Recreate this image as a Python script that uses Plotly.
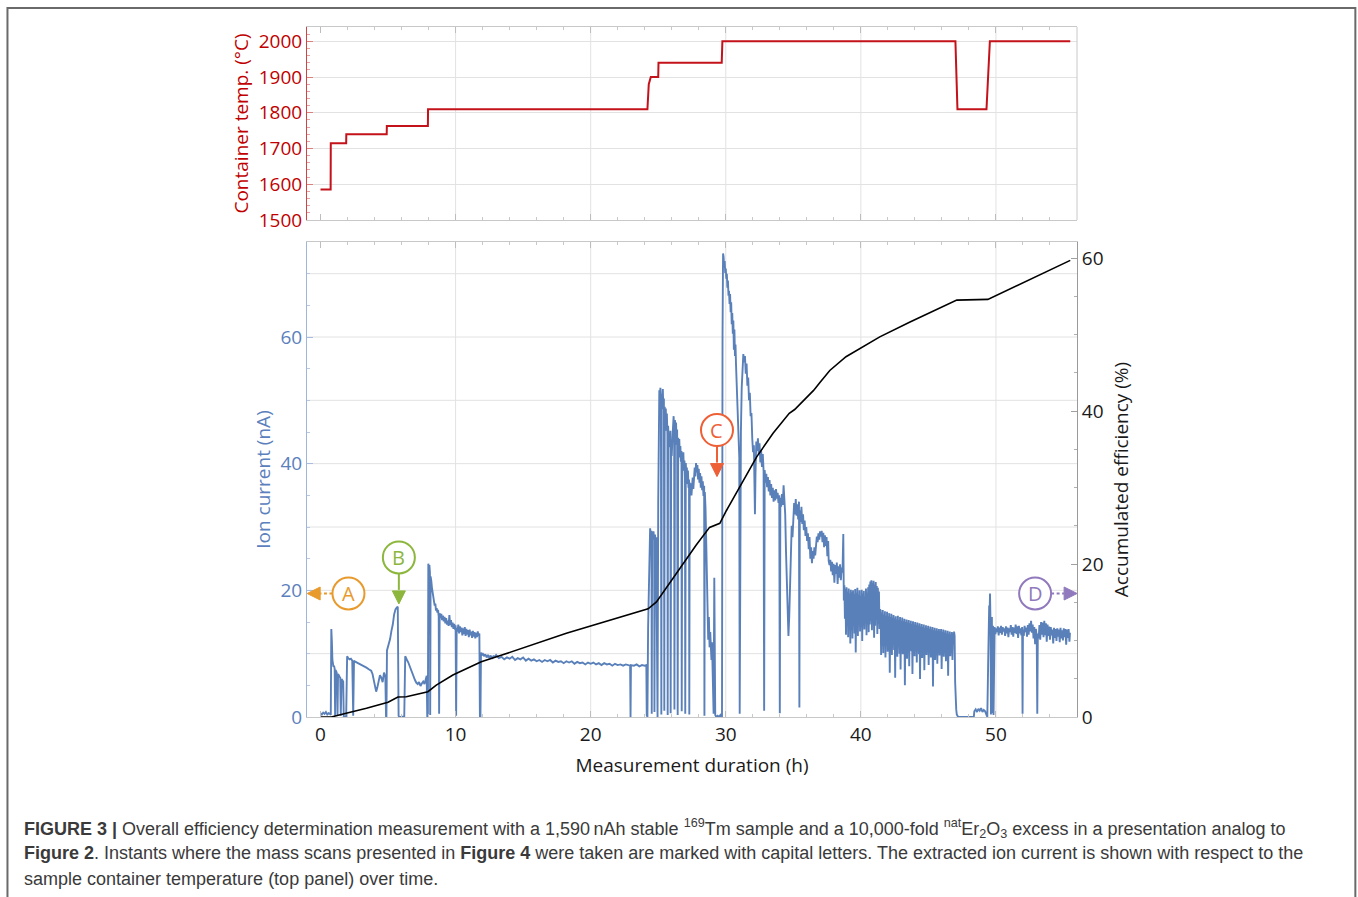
import plotly.graph_objects as go

# ---------------- container temperature program (top panel) ----------------
temp_time_h = [0.0, 0.75, 0.76, 1.9, 1.91, 4.9, 4.91, 7.95, 7.96, 24.2, 24.3, 24.45,
               25.0, 25.02, 29.7, 29.75, 47.0, 47.15, 49.3, 49.55, 55.5]
temp_c = [1585, 1585, 1715, 1715, 1740, 1740, 1763, 1763, 1810, 1810, 1880, 1900,
          1900, 1940, 1940, 2000, 2000, 1810, 1810, 2000, 2000]

# ---------------- accumulated efficiency (black, right axis) ----------------
eff_time_h = [0.0, 0.8, 1.9, 3.4, 5.0, 5.73, 6.35, 7.95, 8.57, 9.8, 11.9, 13.26, 18.2,
              24.25, 24.87, 26.6, 27.8, 28.8, 29.56, 30.05, 31.04, 32.3, 33.5, 34.7,
              35.1, 36.5, 37.0, 37.7, 38.9, 41.4, 43.6, 47.1, 49.4, 55.5]
eff_pct = [0.0, 0.0, 0.5, 1.14, 1.93, 2.61, 2.65, 3.31, 4.16, 5.49, 7.22, 8.0, 10.94,
           14.15, 15.04, 19.4, 22.46, 24.79, 25.33, 27.0, 30.08, 34.04, 37.1, 39.7,
           40.2, 42.7, 43.8, 45.3, 47.1, 49.7, 51.6, 54.5, 54.6, 59.7]

# ---------------- extracted ion current (blue, left axis) ----------------
# first heating steps, 0 - 8 h
ion_t_start = [0.0, 0.1, 0.2, 0.3, 0.4, 0.5, 0.6, 0.7, 0.76, 0.8, 0.84, 0.88, 0.92, 0.96, 1.0,
               1.05, 1.08, 1.1, 1.14, 1.2, 1.26, 1.3, 1.34, 1.4, 1.46, 1.5, 1.56, 1.62, 1.68,
               1.72, 1.78, 1.84, 1.9, 1.93, 1.97, 2.05, 2.15, 2.25, 2.35, 2.42, 2.45, 2.48,
               2.6, 2.8, 3.0, 3.2, 3.4, 3.6, 3.75, 3.85, 3.95, 4.05, 4.12, 4.2, 4.3, 4.4,
               4.5, 4.6, 4.7, 4.8, 4.85, 4.88, 4.92, 4.98, 5.05, 5.15, 5.25, 5.35, 5.45,
               5.55, 5.65, 5.72, 5.78, 5.82, 5.9, 6.0, 6.1, 6.2, 6.27, 6.32, 6.4, 6.5, 6.6,
               6.7, 6.8, 6.9, 7.0, 7.1, 7.2, 7.3, 7.4, 7.5, 7.6, 7.7, 7.8, 7.86, 7.9]
ion_i_start = [0.6, 0.4, 0.7, 0.5, 0.8, 0.4, 0.6, 0.5, 0.3, 13.9, 12.0, 9.0, 8.4, 7.9, 8.1,
               7.6, 0.2, 7.4, 7.3, 7.0, 0.3, 6.8, 6.7, 6.4, 6.2, 0.2, 6.0, 5.8, 5.6,
               0.1, 0.0, 0.0, 0.1, 9.4, 9.6, 9.3, 9.1, 9.2, 8.9, 0.2, 8.8, 8.9,
               8.7, 8.5, 8.3, 8.1, 7.8, 7.5, 7.3, 6.8, 5.5, 4.3, 4.0, 4.6, 5.6, 6.6,
               6.2, 5.5, 7.0, 6.4, 0.1, 0.0, 10.5, 11.0, 11.4, 12.3, 13.6, 14.6, 16.2,
               17.0, 17.3, 17.4, 0.2, 0.0, 0.0, 0.0, 0.0, 0.1, 9.6, 9.3, 9.0, 8.6, 8.0,
               7.6, 6.8, 6.2, 5.8, 5.4, 5.2, 5.5, 4.9, 5.3, 5.6, 5.2, 6.3, 6.5, 0.1]

# 1810 degC step, 8 - 12 h
ion_t_step = [7.95, 7.98, 8.02, 8.06, 8.1, 8.12, 8.15, 8.2, 8.25, 8.3, 8.35, 8.4, 8.45, 8.5,
              8.55, 8.6, 8.65, 8.7, 8.75, 8.78, 8.82, 8.88, 8.94, 9.0, 9.06, 9.12, 9.18,
              9.24, 9.3, 9.36, 9.42, 9.48, 9.54, 9.6, 9.66, 9.72, 9.78, 9.84, 9.9, 9.96,
              10.0, 10.04, 10.08, 10.14, 10.2, 10.26, 10.32, 10.38, 10.44, 10.5, 10.56,
              10.62, 10.68, 10.74, 10.8, 10.86, 10.92, 10.98, 11.04, 11.1, 11.16, 11.22,
              11.28, 11.34, 11.4, 11.46, 11.52, 11.58, 11.64, 11.7, 11.76, 11.8, 11.84,
              11.88, 11.94, 12.0]
ion_i_step = [0.0, 24.2, 23.6, 24.0, 22.8, 0.3, 22.2, 21.5, 20.4, 19.7, 18.9, 18.2, 17.6, 17.9,
              16.8, 17.2, 16.5, 16.9, 15.9, 0.5, 16.4, 15.6, 16.3, 15.3, 16.0, 15.1, 15.8,
              14.8, 15.6, 14.6, 15.2, 14.4, 16.1, 14.5, 15.3, 14.2, 14.9, 13.9, 14.7, 13.8,
              14.5, 0.2, 14.1, 13.5, 14.6, 13.2, 14.3, 13.4, 14.1, 12.9, 14.0,
              13.1, 14.2, 12.8, 13.9, 13.0, 13.7, 12.6, 13.8, 12.9, 13.5, 12.5,
              13.6, 12.7, 13.4, 12.4, 13.3, 12.6, 13.5, 12.8, 13.2, 0.1, 0.0,
              10.2, 9.7, 10.1]

# slow decay plateau, 12 - 24 h
ion_t_plateau = [12.1, 12.2, 12.3, 12.4, 12.5, 12.6, 12.7, 12.8, 12.9, 13.0, 13.2, 13.4, 13.6,
                 13.8, 14.0, 14.2, 14.4, 14.6, 14.8, 15.0, 15.2, 15.4, 15.6, 15.8, 16.0,
                 16.2, 16.4, 16.6, 16.8, 17.0, 17.2, 17.4, 17.6, 17.8, 18.0, 18.2, 18.4,
                 18.6, 18.8, 19.0, 19.2, 19.4, 19.6, 19.8, 20.0, 20.2, 20.4, 20.6, 20.8,
                 21.0, 21.2, 21.4, 21.6, 21.8, 22.0, 22.2, 22.4, 22.6, 22.8, 22.92, 22.95,
                 22.98, 23.2, 23.4, 23.6, 23.8, 24.0, 24.12]
ion_i_plateau = [9.6, 9.9, 9.4, 9.8, 9.3, 9.7, 9.2, 9.6, 9.5, 9.8, 9.3, 9.5, 9.1,
                 9.4, 9.2, 9.5, 9.0, 9.3, 9.1, 9.4, 8.9, 9.2, 8.9, 9.1, 8.8,
                 9.0, 8.7, 9.0, 8.8, 9.0, 8.6, 8.9, 8.7, 8.8, 8.5, 8.8, 8.6,
                 8.8, 8.4, 8.7, 8.5, 8.6, 8.3, 8.6, 8.4, 8.6, 8.3, 8.5, 8.2,
                 8.5, 8.3, 8.4, 8.1, 8.4, 8.2, 8.3, 8.1, 8.3, 8.2, 8.1, 0.0,
                 8.2, 8.1, 8.3, 8.0, 8.2, 8.1, 8.2]

# 1880 - 1940 degC steps, 24 - 29.7 h
ion_t_rise = [24.15, 24.2, 24.25, 24.3, 24.35, 24.4, 24.45, 24.5, 24.52, 24.55, 24.6, 24.65,
              24.7, 24.72, 24.76, 24.8, 24.85, 24.9, 24.95, 25.0, 25.04, 25.08, 25.12, 25.16,
              25.2, 25.23, 25.26, 25.3, 25.34, 25.38, 25.42, 25.45, 25.48, 25.52, 25.56,
              25.6, 25.64, 25.68, 25.7, 25.73, 25.78, 25.82, 25.86, 25.9, 25.92, 25.96,
              26.0, 26.05, 26.1, 26.14, 26.18, 26.2, 26.24, 26.28, 26.32, 26.36, 26.4,
              26.44, 26.48, 26.52, 26.56, 26.6, 26.64, 26.68, 26.72, 26.74, 26.78, 26.82,
              26.86, 26.9, 26.94, 26.98, 27.0, 27.04, 27.08, 27.12, 27.16, 27.2, 27.24,
              27.28, 27.3, 27.33, 27.38, 27.42, 27.46, 27.5, 27.55, 27.6, 27.65, 27.7,
              27.75, 27.8, 27.85, 27.9, 27.95, 28.0, 28.05, 28.1, 28.15, 28.2, 28.25,
              28.3, 28.35, 28.4, 28.42, 28.45, 28.5, 28.55, 28.6, 28.65, 28.7, 28.75,
              28.8, 28.85, 28.9, 28.94, 28.98, 29.02, 29.06, 29.1, 29.15, 29.18, 29.22,
              29.3, 29.4, 29.5, 29.6, 29.68]
ion_i_rise = [0.3, 0.0, 14.0, 20.5, 27.5, 29.8, 28.6, 29.4, 0.5, 29.0, 28.1, 29.3,
              27.9, 0.8, 28.8, 27.6, 28.4, 0.2, 0.0, 34.0, 49.0, 51.6, 50.2, 52.0,
              49.5, 0.4, 51.0, 49.8, 51.8, 48.6, 50.3, 1.0, 49.0, 46.4, 48.7,
              45.2, 47.9, 44.6, 0.3, 46.0, 43.5, 44.8, 42.6, 45.2, 0.6, 43.8,
              41.2, 44.0, 46.2, 47.5, 45.0, 1.2, 46.9, 44.2, 46.5, 43.0, 45.4,
              0.3, 44.1, 41.8, 43.9, 41.0, 42.8, 40.3, 42.0, 0.9, 41.6, 39.5,
              41.8, 38.9, 40.5, 37.6, 0.5, 40.1, 38.2, 39.4, 36.8, 38.9, 36.2,
              37.5, 0.4, 37.0, 35.4, 36.9, 35.0, 36.5, 37.8, 36.0, 38.5, 39.4,
              38.0, 40.1, 38.6, 39.8, 37.5, 39.2, 37.0, 38.5, 36.2, 38.0, 35.8,
              37.2, 34.9, 36.5, 0.2, 35.5, 33.0, 28.0, 20.0, 14.6, 12.2, 15.8,
              11.0, 13.4, 10.2, 9.0, 11.8, 8.4, 3.0, 0.5, 22.0, 14.0, 0.3,
              0.0, 0.2, 0.0, 0.3, 0.0]

# 2000 degC maximum and decay, 29.7 - 37 h
ion_t_peak = [29.72, 29.76, 29.8, 29.84, 29.88, 29.92, 29.96, 30.0, 30.04, 30.08, 30.12, 30.16,
              30.2, 30.24, 30.28, 30.32, 30.36, 30.4, 30.44, 30.48, 30.52, 30.56, 30.6,
              30.64, 30.68, 30.72, 30.76, 30.8, 30.84, 30.88, 30.92, 30.96, 31.0, 31.03,
              31.07, 31.12, 31.18, 31.24, 31.3, 31.36, 31.42, 31.48, 31.54, 31.6, 31.66,
              31.72, 31.78, 31.84, 31.9, 31.96, 32.02, 32.08, 32.12, 32.16, 32.2, 32.26,
              32.32, 32.38, 32.44, 32.5, 32.56, 32.62, 32.68, 32.74, 32.8, 32.84, 32.88,
              32.94, 33.0, 33.06, 33.12, 33.18, 33.24, 33.3, 33.36, 33.42, 33.48, 33.54,
              33.6, 33.66, 33.72, 33.78, 33.84, 33.9, 33.96, 34.0, 34.04, 34.1, 34.16,
              34.22, 34.28, 34.34, 34.4, 34.46, 34.52, 34.58, 34.64, 34.7, 34.76, 34.82,
              34.88, 34.94, 35.0, 35.06, 35.12, 35.18, 35.24, 35.3, 35.36, 35.42, 35.45,
              35.48, 35.54, 35.6, 35.66, 35.72, 35.78, 35.84, 35.9, 35.96, 36.02, 36.08,
              36.14, 36.2, 36.26, 36.32, 36.38, 36.44, 36.5, 36.56, 36.62, 36.68, 36.74,
              36.8, 36.86, 36.92, 36.98]
ion_i_peak = [0.0, 60.0, 73.2, 72.6, 71.0, 72.0, 70.1, 70.8, 69.2, 70.0, 67.8, 68.9,
              66.5, 67.3, 65.2, 66.8, 63.9, 65.5, 62.0, 63.8, 60.5, 62.6, 58.0,
              61.2, 57.0, 58.8, 55.5, 53.0, 49.5, 46.0, 44.2, 42.5, 41.0, 0.5,
              40.2, 45.0, 52.0, 55.5, 57.3, 56.0, 57.0, 54.2, 55.8, 52.3, 53.6,
              50.0, 51.2, 47.5, 48.0, 44.0, 41.8, 42.9, 36.0, 32.0, 38.5, 43.5,
              42.0, 44.0, 41.5, 43.2, 40.2, 42.0, 39.5, 41.5, 38.8, 1.0, 39.0,
              37.0, 38.4, 36.3, 37.9, 35.6, 37.4, 35.0, 36.8, 34.6, 36.2, 34.0,
              35.8, 34.2, 36.0, 34.5, 35.4, 33.8, 35.0, 0.6, 34.6, 33.2, 35.2,
              33.5, 36.6, 35.0, 32.0, 26.0, 21.0, 15.5, 12.8, 16.0, 22.5, 27.8,
              30.2, 28.4, 31.5, 33.8, 32.0, 34.4, 31.8, 33.6, 31.2, 34.0, 1.5,
              32.6, 30.8, 33.2, 30.5, 32.0, 29.5, 31.0, 28.6, 30.0, 27.8, 29.0,
              26.5, 28.4, 25.0, 26.8, 24.3, 26.2, 25.0, 26.8, 25.5, 27.2, 28.5,
              27.6, 29.0, 28.0, 29.3]

# noisy tail, 37 - 41.5 h
ion_t_tail = [37.04, 37.1, 37.16, 37.22, 37.28, 37.34, 37.4, 37.46, 37.52, 37.58, 37.62, 37.68,
              37.74, 37.8, 37.86, 37.92, 37.98, 38.04, 38.1, 38.16, 38.22, 38.28, 38.34,
              38.4, 38.46, 38.52, 38.58, 38.64, 38.7, 38.74, 38.78, 38.82, 38.86, 38.9,
              38.94, 38.98, 39.02, 39.06, 39.1, 39.14, 39.18, 39.22, 39.26, 39.3, 39.34,
              39.38, 39.42, 39.46, 39.5, 39.54, 39.58, 39.62, 39.66, 39.7, 39.74, 39.78,
              39.82, 39.86, 39.9, 39.94, 39.98, 40.02, 40.06, 40.1, 40.14, 40.18, 40.22,
              40.26, 40.3, 40.34, 40.38, 40.42, 40.46, 40.5, 40.54, 40.58, 40.62, 40.66,
              40.7, 40.74, 40.78, 40.82, 40.86, 40.9, 40.94, 40.98, 41.02, 41.06, 41.1,
              41.14, 41.18, 41.22, 41.26, 41.3, 41.34, 41.38, 41.42]
ion_i_tail = [28.5, 29.4, 27.6, 29.1, 26.8, 28.7, 27.0, 28.4, 25.4, 27.8, 24.6, 24.0,
              24.8, 23.0, 24.5, 22.4, 24.2, 21.2, 24.0, 22.6, 24.4, 21.0, 23.8,
              22.0, 24.1, 21.6, 23.6, 22.8, 28.9, 18.4, 20.8, 15.5, 20.2, 13.0,
              20.5, 14.8, 19.8, 12.6, 20.3, 15.2, 19.5, 11.6, 20.1, 14.0, 19.7,
              12.4, 20.0, 15.6, 19.4, 13.2, 20.2, 10.2, 19.6, 14.5, 20.4, 12.8,
              19.3, 15.0, 20.0, 13.5, 19.1, 14.2, 20.1, 12.0, 19.5, 15.3, 19.9,
              13.8, 19.0, 14.9, 20.3, 12.9, 19.6, 15.8, 20.5, 13.4, 20.9, 14.6,
              21.4, 15.2, 21.6, 13.7, 21.2, 14.8, 21.5, 12.5, 20.9, 14.4, 21.3,
              15.6, 20.7, 13.1, 20.4, 14.7, 19.8, 13.9, 17.0]

# long noisy decline, 41.5 - 47 h
ion_t_decline = [41.46, 41.5, 41.54, 41.58, 41.62, 41.66, 41.7, 41.74, 41.78, 41.82, 41.86,
                 41.9, 41.94, 41.98, 42.02, 42.06, 42.1, 42.14, 42.18, 42.22, 42.26, 42.3,
                 42.34, 42.38, 42.42, 42.46, 42.5, 42.54, 42.58, 42.62, 42.66, 42.7, 42.74,
                 42.78, 42.82, 42.86, 42.9, 42.94, 42.98, 43.02, 43.06, 43.1, 43.14, 43.18,
                 43.22, 43.26, 43.3, 43.34, 43.38, 43.42, 43.46, 43.5, 43.54, 43.58, 43.62,
                 43.66, 43.7, 43.74, 43.78, 43.82, 43.86, 43.9, 43.94, 43.98, 44.02, 44.06,
                 44.1, 44.14, 44.18, 44.22, 44.26, 44.3, 44.34, 44.38, 44.42, 44.46, 44.5,
                 44.54, 44.58, 44.62, 44.66, 44.7, 44.74, 44.78, 44.82, 44.86, 44.9, 44.94,
                 44.98, 45.02, 45.06, 45.1, 45.14, 45.18, 45.22, 45.26, 45.3, 45.34, 45.38,
                 45.42, 45.46, 45.5, 45.54, 45.58, 45.62, 45.66, 45.7, 45.74, 45.78, 45.82,
                 45.86, 45.9, 45.94, 45.98, 46.02, 46.06, 46.1, 46.14, 46.18, 46.22, 46.26,
                 46.3, 46.34, 46.38, 46.42, 46.46, 46.5, 46.54, 46.58, 46.62, 46.66, 46.7,
                 46.74, 46.78, 46.82, 46.86, 46.9, 46.94, 46.98, 47.02, 47.06, 47.1, 47.2]
ion_i_decline = [16.8, 9.8, 16.5, 11.2, 16.9, 10.1, 16.2, 12.0, 16.7, 9.4, 16.0,
                 11.5, 16.6, 10.3, 15.9, 12.4, 16.4, 7.0, 15.8, 11.0, 16.3, 9.8,
                 15.7, 12.1, 16.1, 10.6, 15.6, 6.2, 15.9, 11.7, 15.4, 9.5, 16.0,
                 12.3, 15.3, 10.0, 15.8, 7.5, 15.2, 11.4, 15.7, 9.9, 15.1, 12.0,
                 15.5, 5.0, 15.0, 10.8, 15.4, 9.2, 14.9, 11.9, 15.3, 8.0, 14.8,
                 12.2, 15.2, 10.4, 14.7, 6.8, 15.1, 11.3, 14.6, 9.6, 15.0, 12.1,
                 14.5, 8.6, 14.9, 11.0, 14.4, 9.9, 14.8, 6.0, 14.3, 11.6, 14.7,
                 9.3, 14.2, 12.0, 14.6, 7.4, 14.1, 10.7, 14.5, 9.8, 14.0, 11.8,
                 14.4, 8.2, 13.9, 11.1, 14.3, 9.4, 13.8, 12.0, 14.2, 4.8, 13.7,
                 10.9, 14.1, 9.0, 13.6, 11.7, 14.0, 8.4, 13.6, 11.2, 13.9, 9.7,
                 13.5, 12.1, 13.9, 7.6, 13.4, 11.0, 13.8, 9.5, 13.3, 11.9, 13.7,
                 8.8, 13.2, 10.8, 13.6, 6.5, 13.1, 11.5, 13.5, 9.6, 13.0, 11.8,
                 13.4, 9.0, 13.2, 11.6, 13.5, 12.8, 5.5, 2.0, 1.2, 0.4, 0.0]

# cool-down interval and recovery, 47.2 - 49.9 h
ion_t_pause = [47.4, 47.8, 48.2, 48.36, 48.4, 48.5, 48.6, 48.7, 48.8, 48.9, 49.0, 49.1, 49.2,
               49.3, 49.36, 49.42, 49.46, 49.5, 49.53, 49.56, 49.6, 49.63, 49.67, 49.7,
               49.74, 49.78, 49.82, 49.86]
ion_i_pause = [0.0, 0.0, 0.0, 0.0, 0.9, 1.2, 0.8, 1.3, 1.0, 1.4, 0.8, 1.1, 0.9,
               0.2, 0.0, 8.0, 14.5, 17.6, 16.2, 19.5, 14.8, 0.4, 14.2, 15.8,
               0.6, 14.4, 0.3, 13.8]

# final 2000 degC stage, 49.9 - 55.5 h
ion_t_final = [49.9, 49.96, 50.02, 50.08, 50.14, 50.2, 50.26, 50.32, 50.38, 50.44, 50.5, 50.56,
               50.62, 50.68, 50.74, 50.8, 50.86, 50.92, 50.98, 51.04, 51.1, 51.16, 51.22,
               51.28, 51.34, 51.4, 51.46, 51.52, 51.58, 51.64, 51.7, 51.76, 51.82, 51.88,
               51.94, 51.97, 52.0, 52.06, 52.12, 52.18, 52.24, 52.3, 52.36, 52.42, 52.48,
               52.54, 52.6, 52.66, 52.72, 52.78, 52.84, 52.9, 52.96, 53.02, 53.06, 53.1,
               53.16, 53.22, 53.28, 53.34, 53.4, 53.46, 53.52, 53.58, 53.64, 53.7, 53.76,
               53.82, 53.88, 53.94, 54.0, 54.06, 54.12, 54.18, 54.24, 54.3, 54.36, 54.42,
               54.48, 54.54, 54.6, 54.66, 54.72, 54.78, 54.84, 54.9, 54.96, 55.02, 55.08,
               55.14, 55.2, 55.26, 55.32, 55.38, 55.44, 55.48]
ion_i_final = [14.2, 13.1, 14.0, 13.4, 14.3, 12.9, 14.1, 13.3, 14.4, 13.0, 14.2, 13.5,
               14.0, 12.8, 14.3, 13.2, 14.1, 12.6, 14.0, 13.4, 14.5, 13.0, 14.2,
               12.7, 14.1, 13.3, 14.6, 13.1, 14.3, 12.5, 14.4, 13.2, 14.0, 12.9,
               14.2, 0.5, 13.8, 12.8, 14.4, 13.4, 14.1, 12.7, 14.5, 13.0, 14.8,
               13.5, 15.2, 13.3, 14.6, 12.4, 14.2, 11.5, 13.9, 12.6, 0.5, 13.2,
               12.4, 14.5, 12.2, 15.0, 13.0, 14.9, 12.6, 15.2, 12.9, 14.8, 11.9,
               14.6, 12.8, 14.3, 12.2, 14.2, 12.9, 13.8, 11.6, 14.1, 12.5, 13.9,
               12.0, 14.0, 12.7, 13.8, 11.8, 14.1, 12.4, 13.7, 12.1, 14.0, 12.6,
               13.9, 11.4, 13.8, 12.5, 13.9, 11.9, 13.3]

ion_time_h = (ion_t_start + ion_t_step + ion_t_plateau + ion_t_rise + ion_t_peak
              + ion_t_tail + ion_t_decline + ion_t_pause + ion_t_final)
ion_current_na = (ion_i_start + ion_i_step + ion_i_plateau + ion_i_rise + ion_i_peak
                  + ion_i_tail + ion_i_decline + ion_i_pause + ion_i_final)

# ---------------- mass-scan markers (circle centre in data units) ----------------
scan_labels = ["A", "B", "C", "D"]
scan_colors = ["#E89A2C", "#8DB63C", "#EE5F35", "#9079BC"]
scan_circle_h = [2.07, 5.8, 29.35, 52.9]
scan_circle_na = [19.5, 25.2, 45.3, 19.5]
scan_pointing = ["left", "down", "down", "right"]

grid_hours = [10, 20, 30, 40, 50]
grid_current = [10, 20, 30, 40, 50, 60, 70]

FONT = "Open Sans"
TEMP_RED = "#C00000"
ION_BLUE = "#5B80BD"

fig = go.Figure()

fig.add_trace(go.Scatter(x=ion_time_h, y=ion_current_na, mode="lines",
                         line=dict(color="#5A80BA", width=1.9),
                         xaxis="x", yaxis="y", hoverinfo="skip", showlegend=False))

fig.add_trace(go.Scatter(x=eff_time_h, y=eff_pct, mode="lines",
                         line=dict(color="black", width=1.6),
                         xaxis="x", yaxis="y2", hoverinfo="skip", showlegend=False))

fig.add_trace(go.Scatter(x=temp_time_h, y=temp_c, mode="lines",
                         line=dict(color="#C4121A", width=2),
                         xaxis="x2", yaxis="y3", hoverinfo="skip", showlegend=False))

shapes = []
# vertical grid lines in both panels
for h in grid_hours:
    shapes.append(dict(type="line", xref="x", yref="y domain", x0=h, x1=h, y0=0, y1=1,
                       line=dict(color="#E2E2E2", width=1), layer="below"))
    shapes.append(dict(type="line", xref="x2", yref="y3 domain", x0=h, x1=h, y0=0, y1=1,
                       line=dict(color="#E2E2E2", width=1), layer="below"))
# horizontal grid lines of the ion-current panel
for c in grid_current:
    shapes.append(dict(type="line", xref="x domain", yref="y", x0=0, x1=1, y0=c, y1=c,
                       line=dict(color="#E2E2E2", width=1), layer="below"))
# right frame edge of the temperature panel
shapes.append(dict(type="line", xref="x2 domain", yref="y3 domain", x0=1, x1=1, y0=0, y1=1,
                   line=dict(color="#C8C8C8", width=1)))

# scan markers: circle, leader and arrow head, sized in screen pixels around the centre
R = 16          # circle radius
HEAD = 13       # arrow head length
HALF = 6.5      # arrow head half width
LEADER = {"left": 41.3, "down": 46.5, "right": 42.0}   # centre-to-tip distance
annotations = []
for lab, col, cx, cy, way in zip(scan_labels, scan_colors, scan_circle_h,
                                 scan_circle_na, scan_pointing):
    tip = LEADER[way]
    pix = dict(xref="x", yref="y", xsizemode="pixel", ysizemode="pixel",
               xanchor=cx, yanchor=cy)
    if way == "down":
        shaft = dict(x0=0, x1=0, y0=-R, y1=-(tip - HEAD) + 1, dash="solid")
        head = f"M{-HALF},{-(tip - HEAD)} L{HALF},{-(tip - HEAD)} L0,{-tip} Z"
    elif way == "left":
        shaft = dict(x0=-R, x1=-(tip - HEAD), y0=0, y1=0, dash="3px,2.5px")
        head = f"M{-tip},0 L{-(tip - HEAD)},{HALF} L{-(tip - HEAD)},{-HALF} Z"
    else:
        shaft = dict(x0=R, x1=tip - HEAD, y0=0, y1=0, dash="3px,2.5px")
        head = f"M{tip},0 L{tip - HEAD},{HALF} L{tip - HEAD},{-HALF} Z"
    dash = shaft.pop("dash")
    shapes.append(dict(type="line", line=dict(color=col, width=2, dash=dash), **shaft, **pix))
    shapes.append(dict(type="path", path=head, fillcolor=col, line=dict(color=col, width=1),
                       **pix))
    shapes.append(dict(type="circle", x0=-R, x1=R, y0=-R, y1=R, fillcolor="white",
                       line=dict(color=col, width=2), **pix))
    annotations.append(dict(text=lab, x=cx, y=cy, xref="x", yref="y", showarrow=False,
                            xanchor="center", yanchor="middle",
                            font=dict(family=FONT, size=20, color=col)))

# outer figure frame
shapes.append(dict(type="rect", xref="paper", yref="paper", x0=-0.389, x1=1.3615,
                   y0=-0.32, y1=1.0275, line=dict(color="#6A6A6A", width=2)))

caption_lines = [
    "<b>FIGURE 3 |</b> Overall efficiency determination measurement with a 1,590\u2009nAh stable "
    "<sup>169</sup>Tm sample and a 10,000-fold <sup>nat</sup>Er<sub>2</sub>O<sub>3</sub> "
    "excess in a presentation analog to",
    "<b>Figure 2</b>. Instants where the mass scans presented in <b>Figure 4</b> were taken "
    "are marked with capital letters. The extracted ion current is shown with respect to the",
    "sample container temperature (top panel) over time.",
]
caption_y = [-0.1623, -0.1971, -0.2348]
for line_text, yy in zip(caption_lines, caption_y):
    annotations.append(dict(text=line_text, xref="paper", yref="paper", x=-0.370, y=yy,
                            xanchor="left", yanchor="middle", showarrow=False,
                            font=dict(family="Liberation Sans", size=18, color="#3A3A3A")))

tick_font = dict(family=FONT, size=19)

fig.update_layout(
    width=1358, height=897, autosize=False,
    margin=dict(l=307, r=281, t=27, b=180),
    paper_bgcolor="white", plot_bgcolor="white",
    showlegend=False,
    shapes=shapes, annotations=annotations,
    xaxis=dict(domain=[0, 1], anchor="y", range=[-1, 56], tick0=0, dtick=10,
               ticks="inside", ticklen=6, tickcolor="#BDBDBD",
               minor=dict(tick0=0, dtick=2, ticks="inside", ticklen=3, tickcolor="#C8C8C8"),
               showgrid=False, zeroline=False, showline=True, mirror="ticks",
               linecolor="#C8C8C8", linewidth=1,
               tickfont=dict(tick_font, color="#1A1A1A"),
               title=dict(text="Measurement duration (h)", standoff=12,
                          font=dict(family=FONT, size=19, color="#1A1A1A"))),
    yaxis=dict(domain=[0, 0.6884], anchor="x", range=[0, 75], tick0=0, dtick=20,
               ticks="inside", ticklen=6, tickcolor="#A9BCDB",
               minor=dict(tick0=0, dtick=5, ticks="inside", ticklen=3, tickcolor="#B9C9E2"),
               showgrid=False, zeroline=False, showline=True, linecolor="#9FB5D9",
               linewidth=1, tickfont=dict(tick_font, color=ION_BLUE),
               title=dict(text="Ion current (nA)", standoff=4,
                          font=dict(family=FONT, size=19, color=ION_BLUE))),
    yaxis2=dict(overlaying="y", anchor="x", side="right", range=[0, 62.1], tick0=0, dtick=20,
                ticks="inside", ticklen=6, tickcolor="#A0A0A0",
                minor=dict(tick0=0, dtick=5, ticks="inside", ticklen=3, tickcolor="#B0B0B0"),
                showgrid=False, zeroline=False, showline=True, linecolor="#9A9A9A",
                linewidth=1, tickfont=dict(tick_font, color="#1A1A1A"),
                title=dict(text="Accumulated efficiency (%)", standoff=12,
                           font=dict(family=FONT, size=19, color="#1A1A1A"))),
    xaxis2=dict(domain=[0, 1], anchor="y3", matches="x", range=[-1, 56], tick0=0, dtick=10,
                ticks="inside", ticklen=6, tickcolor="#BDBDBD",
                minor=dict(tick0=0, dtick=2, ticks="inside", ticklen=3, tickcolor="#C8C8C8"),
                showticklabels=False, showgrid=False, zeroline=False, showline=True,
                mirror="ticks", linecolor="#C8C8C8", linewidth=1),
    yaxis3=dict(domain=[0.7203, 1], anchor="x2", range=[1500, 2040], tick0=1500, dtick=100,
                ticks="inside", ticklen=6, tickcolor="#D98080",
                minor=dict(tick0=1500, dtick=20, ticks="inside", ticklen=3, tickcolor="#E0A0A0"),
                showgrid=True, gridcolor="#E2E2E2", zeroline=False, showline=True,
                linecolor="#CC4444", linewidth=1, tickfont=dict(tick_font, color=TEMP_RED),
                title=dict(text="Container temp. (\u00b0C)", standoff=5,
                           font=dict(family=FONT, size=19, color=TEMP_RED))),
)

fig.write_html("out.html")
